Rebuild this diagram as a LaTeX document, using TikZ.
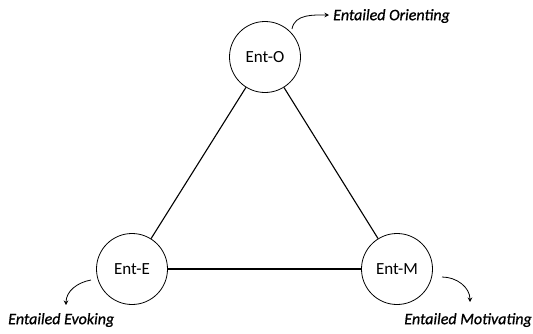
\documentclass[tikz,border=0pt]{standalone}
\usepackage{fontspec}
\setmainfont{Carlito}
\usetikzlibrary{arrows.meta}
\begin{document}
\begin{tikzpicture}[x=1pt,y=-1pt,
  ent/.style={circle,draw,line width=0.8pt,minimum size=71pt,inner sep=0pt,font=\fontsize{17}{20}\selectfont},
  lab/.style={font=\fontsize{16}{19}\selectfont\itshape\addfontfeature{FakeBold=0.8},inner sep=0pt},
  tie/.style={line width=1.1pt},
  curv/.style={line width=0.8pt,-{Stealth[length=4.5pt,width=4.5pt]}}]
\useasboundingbox (0,0) rectangle (533,333);
\node[ent] (O) at (265,57) {Ent-O};
\node[ent] (E) at (132,269) {Ent-E};
\node[ent] (M) at (397,269) {Ent-M};
\draw[tie] (O) -- (E);
\draw[tie] (O) -- (M);
\draw[tie] (E) -- (M);
\node[lab,anchor=west] (lo) at (333,16) {Entailed Orienting};
\node[lab,anchor=west] (le) at (8,320) {Entailed Evoking};
\node[lab,anchor=east] (lm) at (532,320) {Entailed Motivating};
\coordinate (so) at (292,29);
\coordinate (eo) at (329,15);
\coordinate (se) at (91,280);
\coordinate (ee) at (66,305);
\coordinate (sm) at (442,277);
\coordinate (em) at (470,302);
\draw[curv] (so) to[out=80,in=180] (eo);
\draw[curv] (se) to[out=190,in=90] (ee);
\draw[curv] (sm) to[out=0,in=90] (em);
\end{tikzpicture}
\end{document}
